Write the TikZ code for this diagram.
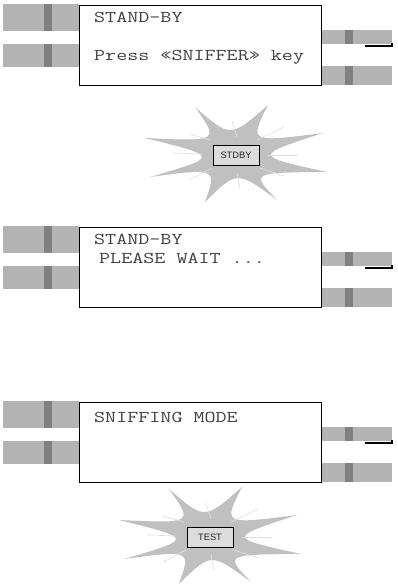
\documentclass[tikz,border=0pt]{standalone}
\usepackage{fontspec}
\setmainfont{Liberation Serif}
\newfontfamily\lcdfont[FakeStretch=1.3]{Latin Modern Mono}
\newfontfamily\keyfont{Liberation Sans}
\usetikzlibrary{positioning}

\definecolor{barlight}{HTML}{B3B3B3}
\definecolor{bardark}{HTML}{808080}
\definecolor{burstgray}{HTML}{C0C0C0}
\definecolor{keyfill}{HTML}{DCDCDC}
\definecolor{lcdtext}{HTML}{404040}

\begin{document}
\begin{tikzpicture}[
        x=1pt, y=-1pt,
        % Define styles for the display, its lines and the key labels
        lcd/.style={draw, fill=white, line width=0.8pt, minimum width=242pt, minimum height=80pt, inner sep=0pt, anchor=north west},
        lcdline/.style={font=\lcdfont\fontsize{16.5}{18}\selectfont, text=lcdtext, inner sep=0pt, anchor=base west},
        keybox/.style={draw, fill=keyfill, line width=0.8pt, minimum width=46pt, minimum height=20pt, inner sep=0pt, font=\keyfont\fontsize{9.3}{10}\selectfont, text=black!85},
        ray/.style={draw=white!88!black, line width=0.7pt},
        burst/.pic={
            \fill[burstgray] (-41,-48) .. controls (-5.5,-17) and (-5.5,-17) .. (32,-50)
                .. controls (13,-12.5) and (13,-12.5) .. (87,-22)
                .. controls (17,0.8) and (17,0.8) .. (91,17)
                .. controls (14.5,17.5) and (14.5,17.5) .. (41,45)
                .. controls (1,15.5) and (1,15.5) .. (-31,47)
                .. controls (-19,13) and (-19,13) .. (-86,22)
                .. controls (-16,1.6) and (-16,1.6) .. (-91,-17)
                .. controls (-16.5,-13.5) and (-16.5,-13.5) .. cycle;
            \foreach \xa/\ya/\xb/\yb in {-4/-34/1/-18, 21/-15/48/-28, 32/0/62/0, 24/13/48/21,
                    1/18/4/34, -24/13/-47/25, -34/-1/-62/-2, -26/-15/-47/-21}
                \draw[ray] (\xa,\ya) -- (\xb,\yb);
        }
    ]
    \useasboundingbox (0,0) rectangle (398,585);

    % Draw the plug bars beside each display
    \foreach \top in {5,227,402} {
        \fill[barlight] (3,\top-1) rectangle (79,\top+26);
        \fill[barlight] (3,\top+39) rectangle (79,\top+62);
        \fill[bardark] (44,\top-1) rectangle (52,\top+26);
        \fill[bardark] (44,\top+39) rectangle (52,\top+62);
        \fill[barlight] (321,\top+25) rectangle (392,\top+39);
        \fill[barlight] (321,\top+61) rectangle (392,\top+80);
        \fill[bardark] (345,\top+25) rectangle (353,\top+39);
        \fill[bardark] (345,\top+61) rectangle (353,\top+80);
        \draw[line width=1.6pt] (365,\top+41) -- (392,\top+41) -- (392,\top+38);
    }

    % Draw the three displays
    \node[lcd] (lcd1) at (79,5) {};
    \node[lcd] (lcd2) at (79,227) {};
    \node[lcd] (lcd3) at (79,402) {};

    % Display texts
    \node[lcdline] (stand1) at (94,23) {STAND-BY};
    \node[lcdline] (press) at (94,61) {Press «SNIFFER» key};
    \node[lcdline] (stand2) at (94,244) {STAND-BY};
    \node[lcdline] (wait) at (99,263) {PLEASE WAIT ...};
    \node[lcdline] (sniff) at (94,422) {SNIFFING MODE};

    % Draw the two bursts with their key labels
    \pic at (236,155) {burst};
    \node[keybox] (stdby) at (236,155) {STDBY};
    \pic at (210,537) {burst};
    \node[keybox] (test) at (210,537) {TEST};

\end{tikzpicture}
\end{document}
